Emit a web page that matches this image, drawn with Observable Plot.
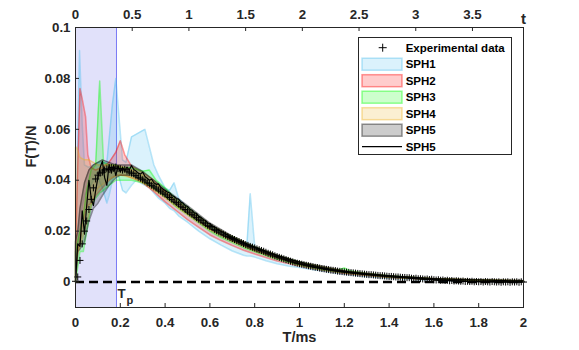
<!DOCTYPE html>
<html><head><meta charset="utf-8">
<script src="https://cdn.jsdelivr.net/npm/d3@7"></script>
<script src="https://cdn.jsdelivr.net/npm/@observablehq/plot@0.6"></script>
<style>
body{margin:0;background:#fff;}
#wrap{position:relative;width:579px;height:350px;font-family:'Liberation Sans',Arial,sans-serif;}
#legend{position:absolute;left:358px;top:37px;width:154px;height:118px;border:1px solid #262626;background:#fff;box-sizing:border-box;}
#legend svg{position:absolute;left:0;top:0;}
</style></head>
<body><div id="wrap"><div id="chart"></div><div id="legend"></div></div>
<script>
// ---------- data ----------
const dt = 0.01;           // sampling step of experiment and SPH5 line (ms)
const Tp = 0.183;          // T_p marker (ms)
const tTopMax = 3.95;      // top axis value at T = 2 ms

const xTicks = [0, 0.2, 0.4, 0.6, 0.8, 1, 1.2, 1.4, 1.6, 1.8, 2];
const yTicks = [0, 0.02, 0.04, 0.06, 0.08, 0.1];
const topTicks = [0, 0.5, 1, 1.5, 2, 2.5, 3, 3.5];

const legendLabels = ["Experimental data", "SPH1", "SPH2", "SPH3", "SPH4", "SPH5", "SPH5"];
const sphColors = ["#4DBEEE", "#FF0000", "#00FF00", "#EDB120", "#000000"];

const expF = [
  0.0003,0.0020,0.0085,0.0150,0.0200,0.0240,0.0285,0.0325,0.0370,0.0405,
  0.0420,0.0428,0.0432,0.0440,0.0445,0.0442,0.0450,0.0447,0.0452,0.0446,
  0.0445,0.0440,0.0443,0.0436,0.0432,0.0428,0.0425,0.0418,0.0412,0.0408,
  0.0402,0.0397,0.0390,0.0386,0.0380,0.0374,0.0369,0.0362,0.0357,0.0350,
  0.0345,0.0338,0.0332,0.0325,0.0318,0.0312,0.0306,0.0298,0.0292,0.0285,
  0.0279,0.0272,0.0266,0.0260,0.0253,0.0247,0.0241,0.0235,0.0229,0.0223,
  0.0218,0.0213,0.0207,0.0202,0.0197,0.0193,0.0188,0.0184,0.0179,0.0175,
  0.0171,0.0167,0.0163,0.0159,0.0155,0.0151,0.0147,0.0144,0.0140,0.0137,
  0.0134,0.0130,0.0127,0.0124,0.0121,0.0117,0.0113,0.0110,0.0107,0.0103,
  0.0100,0.0097,0.0094,0.0091,0.0088,0.0085,0.0082,0.0079,0.0076,0.0074,
  0.0072,0.0070,0.0068,0.0066,0.0064,0.0062,0.0060,0.0058,0.0057,0.0055,
  0.0053,0.0052,0.0050,0.0049,0.0047,0.0046,0.0045,0.0043,0.0042,0.0041,
  0.0040,0.0039,0.0038,0.0037,0.0036,0.0035,0.0034,0.0033,0.0032,0.0031,
  0.0030,0.0029,0.0029,0.0028,0.0027,0.0026,0.0025,0.0025,0.0024,0.0023,
  0.0022,0.0022,0.0021,0.0020,0.0020,0.0019,0.0018,0.0018,0.0017,0.0017,
  0.0015,0.0014,0.0015,0.0013,0.0013,0.0012,0.0011,0.0012,0.0010,0.0011,
  0.0009,0.0008,0.0009,0.0007,0.0008,0.0006,0.0007,0.0005,0.0006,0.0004,
  0.0005,0.0004,0.0003,0.0004,0.0002,0.0003,0.0002,0.0003,0.0001,0.0002,
  0.0001,0.0002,0.0000,0.0002,0.0001,0.0000,0.0002,0.0001,0.0000,0.0001,
  -0.0001,0.0001,0.0000,0.0001,-0.0001,0.0001,0.0000,0.0001,-0.0001,0.0001,
  0.0000
];

const sph5Line = [
  0.0000,0.0150,0.0140,0.0280,0.0190,0.0300,0.0400,0.0330,0.0300,0.0360,
  0.0410,0.0450,0.0475,0.0410,0.0380,0.0462,0.0428,0.0458,0.0418,0.0455,
  0.0432,0.0450,0.0438,0.0452,0.0440,0.0458,0.0442,0.0436,0.0428,0.0424,
  0.0432,0.0415,0.0408,0.0400,0.0404,0.0390,0.0384,0.0386,0.0372,0.0366,
  0.0360,0.0354,0.0350,0.0340,0.0336,0.0328,0.0326,0.0314,0.0310,0.0300,
  0.0297,0.0286,0.0282,0.0272,0.0270,0.0258,0.0254,0.0246,0.0242,0.0232,
  0.0230,0.0220,0.0218,0.0209,0.0206,0.0198,0.0196,0.0188,0.0186,0.0179,
  0.0177,0.0170,0.0168,0.0161,0.0160,0.0153,0.0151,0.0146,0.0144,0.0139,
  0.0137,0.0132,0.0130,0.0126,0.0124,0.0119,0.0117,0.0113,0.0111,0.0107,
  0.0105,0.0101,0.0099,0.0096,0.0094,0.0090,0.0089,0.0085,0.0084,0.0080,
  0.0079,0.0076,0.0074,0.0071,0.0069,0.0067,0.0065,0.0063,0.0061,0.0059,
  0.0057,0.0056,0.0054,0.0052,0.0051,0.0049,0.0048,0.0047,0.0045,0.0044,
  0.0043,0.0042,0.0040,0.0039,0.0038,0.0037,0.0036,0.0035,0.0034,0.0033,
  0.0032,0.0031,0.0030,0.0030,0.0029,0.0028,0.0027,0.0026,0.0026,0.0025,
  0.0024,0.0024,0.0023,0.0022,0.0022,0.0021,0.0020,0.0020,0.0019,0.0019,
  0.0018,0.0018,0.0017,0.0017,0.0016,0.0016,0.0015,0.0015,0.0014,0.0014,
  0.0013,0.0013,0.0013,0.0012,0.0012,0.0012,0.0011,0.0011,0.0011,0.0010,
  0.0010,0.0010,0.0010,0.0009,0.0009,0.0009,0.0009,0.0008,0.0008,0.0008,
  0.0008,0.0008,0.0007,0.0007,0.0007,0.0007,0.0007,0.0006,0.0006,0.0006,
  0.0006,0.0006,0.0006,0.0005,0.0005,0.0005,0.0005,0.0005,0.0005,0.0005,
  0.0005
];

const sph1T  = [0,0.005,0.018,0.03,0.04,0.06,0.08,0.10,0.12,0.14,0.15,0.165,0.18,0.195,0.21,0.225,0.25,0.27,0.29,0.31,0.33,0.35,0.37,0.40,0.42,0.44,0.46,0.50,0.55,0.60,0.65,0.70,0.75,0.765,0.78,0.80,0.85,0.90,0.95,1.00,1.10,1.20,1.30,1.40,1.60,1.80,2.00];
const sph1Hi = [0.015,0.030,0.091,0.062,0.046,0.045,0.046,0.047,0.047,0.047,0.056,0.070,0.080,0.064,0.048,0.047,0.057,0.058,0.059,0.060,0.053,0.046,0.042,0.037,0.036,0.039,0.033,0.029,0.025,0.0215,0.019,0.0168,0.0145,0.0145,0.0347,0.014,0.0115,0.0097,0.0082,0.0070,0.0052,0.0039,0.0029,0.0021,0.0011,0.0006,0.0004];
const sph1Lo = [0.000,0.012,0.020,0.030,0.034,0.037,0.040,0.041,0.037,0.031,0.034,0.040,0.043,0.041,0.036,0.035,0.038,0.040,0.039,0.038,0.037,0.035,0.033,0.031,0.029,0.028,0.026,0.0235,0.020,0.0170,0.0145,0.0122,0.0105,0.0102,0.0102,0.0098,0.0084,0.0072,0.0063,0.0057,0.0043,0.0031,0.0022,0.0015,0.0007,0.0003,0.0001];

const sph2T  = [0,0.01,0.02,0.03,0.045,0.055,0.07,0.09,0.12,0.15,0.18,0.20,0.22,0.25,0.28,0.30,0.35,0.40,0.45,0.50,0.55,0.60,0.65,0.70,0.75,0.80,0.90,1.00,1.10,1.20,1.40,1.60,1.80,2.00];
const sph2Hi = [0.012,0.045,0.076,0.072,0.065,0.050,0.045,0.044,0.045,0.047,0.051,0.0555,0.050,0.0455,0.044,0.043,0.040,0.0355,0.0315,0.028,0.0245,0.021,0.0188,0.0165,0.0145,0.0128,0.0098,0.0074,0.0055,0.0041,0.0023,0.0013,0.0008,0.0005];
const sph2Lo = [0.000,0.012,0.016,0.022,0.028,0.030,0.031,0.034,0.037,0.040,0.042,0.042,0.042,0.041,0.040,0.039,0.0355,0.0315,0.028,0.0245,0.0215,0.0185,0.0163,0.0143,0.0125,0.0110,0.0083,0.0063,0.0046,0.0034,0.0018,0.0009,0.0005,0.0002];

const sph3T  = [0,0.02,0.035,0.05,0.07,0.09,0.108,0.125,0.15,0.18,0.20,0.25,0.30,0.33,0.36,0.40,0.45,0.50,0.55,0.60,0.65,0.70,0.75,0.80,0.90,1.00,1.10,1.17,1.20,1.23,1.30,1.40,1.60,1.80,2.00];
const sph3Hi = [0.012,0.020,0.026,0.036,0.044,0.046,0.079,0.047,0.046,0.046,0.045,0.045,0.0435,0.044,0.040,0.037,0.0325,0.0295,0.026,0.0225,0.020,0.0178,0.0157,0.0138,0.0104,0.0079,0.0058,0.0047,0.0055,0.0043,0.0034,0.0025,0.0013,0.0008,0.0005];
const sph3Lo = [0.000,0.012,0.012,0.020,0.030,0.033,0.035,0.036,0.038,0.040,0.040,0.040,0.039,0.038,0.036,0.0335,0.0295,0.0265,0.0232,0.0200,0.0175,0.0155,0.0135,0.0119,0.0089,0.0066,0.0048,0.0039,0.0037,0.0035,0.0029,0.0020,0.0010,0.0005,0.0002];

const sph4T  = [0,0.005,0.02,0.04,0.06,0.08,0.10,0.13,0.16,0.20,0.25,0.30,0.35,0.40,0.50,0.60,0.70,0.80,0.90,1.00,1.20,1.40,1.60,1.80,2.00];
const sph4Hi = [0.053,0.053,0.049,0.048,0.048,0.047,0.046,0.046,0.046,0.0455,0.044,0.042,0.039,0.0355,0.029,0.0225,0.0178,0.0138,0.0105,0.0078,0.0043,0.0024,0.0013,0.0008,0.0005];
const sph4Lo = [0.000,0.010,0.014,0.020,0.027,0.033,0.037,0.039,0.041,0.042,0.041,0.039,0.036,0.033,0.0265,0.0205,0.016,0.0122,0.0093,0.0068,0.0036,0.0019,0.0010,0.0005,0.0002];

const sph5T  = [0,0.01,0.02,0.04,0.06,0.08,0.10,0.12,0.15,0.18,0.20,0.25,0.30,0.35,0.40,0.50,0.60,0.70,0.80,0.90,1.00,1.20,1.40,1.60,1.80,2.00];
const sph5Hi = [0.016,0.020,0.029,0.039,0.044,0.046,0.047,0.048,0.047,0.046,0.046,0.046,0.0435,0.040,0.0365,0.030,0.0232,0.018,0.0139,0.0106,0.0080,0.0044,0.0025,0.0014,0.0009,0.0006];
const sph5Lo = [0.000,0.012,0.013,0.016,0.024,0.029,0.031,0.034,0.038,0.041,0.042,0.042,0.040,0.037,0.034,0.027,0.021,0.0162,0.0124,0.0094,0.0070,0.0037,0.0020,0.0010,0.0005,0.0003];

// ---------- build tables ----------
const W = 579, H = 350, mL = 75, mR = 56, mT = 27, mB = 43;
const plotW = W - mL - mR, plotH = H - mT - mB, tickLen = 4;
const ink = "#262626";

const expData = expF.map((F, i) => ({T: +(i * dt).toFixed(2), F}));
const lineData = sph5Line.map((F, i) => ({T: +(i * dt).toFixed(2), F}));
const bands = [
  {T: sph1T, lo: sph1Lo, hi: sph1Hi, color: sphColors[0]},
  {T: sph2T, lo: sph2Lo, hi: sph2Hi, color: sphColors[1]},
  {T: sph3T, lo: sph3Lo, hi: sph3Hi, color: sphColors[2]},
  {T: sph4T, lo: sph4Lo, hi: sph4Hi, color: sphColors[3]},
  {T: sph5T, lo: sph5Lo, hi: sph5Hi, color: sphColors[4]}
];
const bandRows = b => b.T.map((T, i) => ({T, lo: b.lo[i], hi: b.hi[i]}));
const outline = b => {
  const up = b.T.map((T, i) => ({T, F: b.hi[i]}));
  const dn = b.T.map((T, i) => ({T, F: b.lo[i]})).reverse();
  return [...up, ...dn, up[0]];
};
const topPos = topTicks.map(t => t * 2 / tTopMax);

const plusSym = {draw(ctx, size) {
  const r = Math.sqrt(size / Math.PI);
  ctx.moveTo(-r, 0); ctx.lineTo(r, 0); ctx.moveTo(0, -r); ctx.lineTo(0, r);
}};

const bandMarks = bands.flatMap(b => [
  Plot.areaY(bandRows(b), {x: "T", y1: "lo", y2: "hi", fill: b.color, fillOpacity: 0.2}),
  Plot.line(outline(b), {x: "T", y: "F", stroke: b.color, strokeOpacity: 0.4, strokeWidth: 1.5})
]);

const chart = Plot.plot({
  width: W, height: H,
  marginLeft: mL, marginRight: mR, marginTop: mT, marginBottom: mB,
  x: {domain: [0, 2]},
  y: {domain: [-0.01, 0.1]},
  style: {fontFamily: "'Liberation Sans', Arial, sans-serif", fontSize: "13.3px", fontWeight: "bold", color: ink, background: "white", overflow: "visible"},
  marks: [
    Plot.rect([{a: 0, b: Tp}], {x1: "a", x2: "b", fill: "#e1e1fa"}),
    Plot.ruleX([Tp], {stroke: "#7b7bf5", strokeWidth: 1}),
    Plot.ruleY([0], {stroke: "#000", strokeWidth: 2.4, strokeDasharray: "9,5"}),
    ...bandMarks,
    Plot.dot(expData, {x: "T", y: "F", symbol: plusSym, r: 3.5, stroke: "#000", fill: "none", strokeWidth: 1}),
    Plot.line(lineData, {x: "T", y: "F", stroke: "#000", strokeWidth: 1.2}),
    Plot.frame({stroke: ink}),
    Plot.tickX(xTicks, {x: d => d, insetTop: plotH - tickLen, stroke: ink}),
    Plot.tickX(topPos, {x: d => d, insetBottom: plotH - tickLen, stroke: ink}),
    Plot.tickY(yTicks, {y: d => d, insetRight: plotW - tickLen, stroke: ink}),
    Plot.axisX(xTicks, {anchor: "bottom", tickSize: 0, tickPadding: 10, tickFormat: d => String(d), label: null}),
    Plot.axisX(topPos, {anchor: "top", tickSize: 0, tickPadding: 9, tickFormat: d => String(topTicks[topPos.indexOf(d)]), label: null}),
    Plot.axisY(yTicks, {anchor: "left", tickSize: 0, tickPadding: 5, tickFormat: d => String(d), label: null}),
    Plot.text([{T: 2, s: "t"}], {x: "T", text: "s", frameAnchor: "top", dy: -14, fontSize: 15, fontWeight: "bold", fill: ink}),
    Plot.text([{T: Tp, F: 0, s: "T"}], {x: "T", y: "F", text: "s", textAnchor: "start", dx: 1, dy: 12, fontSize: 13.3, fontWeight: "bold", fill: ink}),
    Plot.text([{T: Tp, F: 0, s: "p"}], {x: "T", y: "F", text: "s", textAnchor: "start", dx: 10, dy: 18, fontSize: 11, fontWeight: "bold", fill: ink}),
    Plot.text(["T/ms"], {frameAnchor: "bottom", dy: 34, fontSize: 14.5, fontWeight: "bold", fill: ink}),
    Plot.text(["F(T)/N"], {frameAnchor: "left", dx: -44, rotate: -90, fontSize: 14.5, fontWeight: "bold", fill: ink})
  ]
});
document.getElementById("chart").appendChild(chart);

// ---------- legend ----------
const lg = d3.select("#legend").append("svg").attr("width", 152).attr("height", 116)
  .style("font-family", "'Liberation Sans', Arial, sans-serif");
const rowY = [9.7, 26.2, 42.7, 59.2, 75.7, 92.2, 108.7];
legendLabels.forEach((lab, i) => {
  const y = rowY[i];
  if (i === 0) {
    lg.append("path").attr("d", `M${23.7 - 4},${y}h8M23.7,${y - 4}v8`).attr("stroke", "#000").attr("fill", "none");
  } else if (i <= 5) {
    const c = d3.color(sphColors[i - 1]);
    const f = c.copy({opacity: 0.2}), s = c.copy({opacity: 0.4});
    lg.append("rect").attr("x", 3).attr("y", y - 6).attr("width", 40).attr("height", 12)
      .attr("fill", f.formatRgb()).attr("stroke", s.formatRgb()).attr("stroke-width", 1.5);
  } else {
    lg.append("line").attr("x1", 3).attr("x2", 43).attr("y1", y).attr("y2", y).attr("stroke", "#000").attr("stroke-width", 1.2);
  }
  lg.append("text").attr("x", 46.7).attr("y", y).attr("dy", "0.36em")
    .attr("font-size", 11.5).attr("font-weight", "bold").attr("fill", "#000").text(lab);
});
</script></body></html>
